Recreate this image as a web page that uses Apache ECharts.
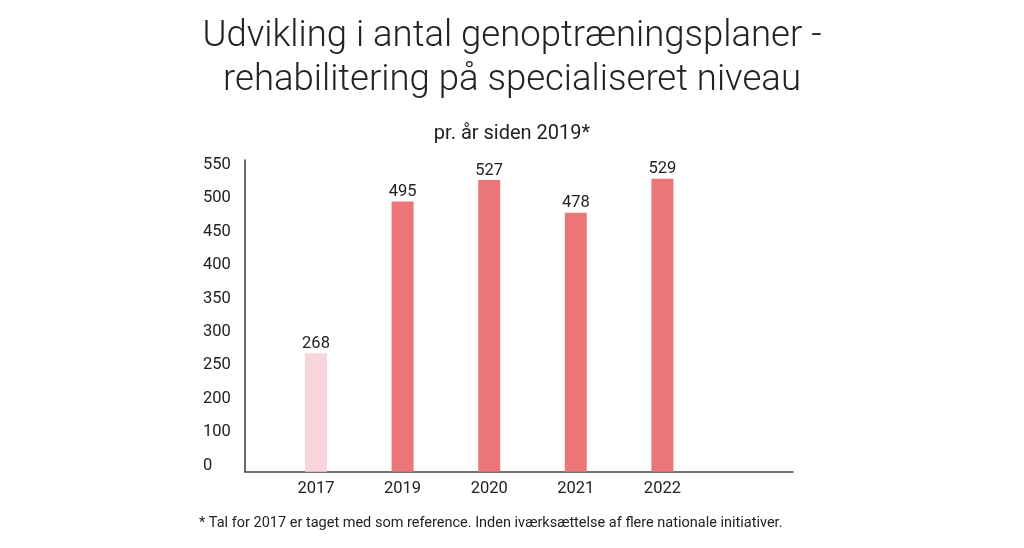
<!DOCTYPE html>
<html>
<head>
<meta charset="utf-8">
<script src="https://cdn.jsdelivr.net/npm/echarts@6/dist/echarts.min.js"></script>
<style>
  html, body { margin: 0; padding: 0; background: #fff; }
  #main { width: 1024px; height: 548px; }
</style>
</head>
<body>
<div id="main"></div>
<script>
// data
const years = ['2017', '2019', '2020', '2021', '2022'];
const antal = [268, 495, 527, 478, 529];
const barColors = ['#f8d4dc', '#ec7578', '#ec7578', '#ec7578', '#ec7578'];
// the original axis is labelled oddly: positions 100/150 carry the text 0/100
const tickValues = [100, 150, 200, 250, 300, 350, 400, 450, 500, 550];
const tickLabels = ['0', '100', '200', '250', '300', '350', '400', '450', '500', '550'];

const font = 'Roboto, "Liberation Sans", sans-serif';

var myChart = echarts.init(document.getElementById('main'));
let option = {
  animation: false,
  title: [
    {
      text: 'Udvikling i antal genoptræningsplaner -\nrehabilitering på specialiseret niveau',
      left: 'center',
      top: 10,
      textStyle: { fontFamily: font, fontWeight: 300, fontSize: 36.5, lineHeight: 44, color: '#222' }
    },
    {
      text: 'pr. år siden 2019*',
      left: 'center',
      top: 117,
      textStyle: { fontFamily: font, fontWeight: 400, fontSize: 20, lineHeight: 24, color: '#222' }
    },
    {
      text: '* Tal for 2017 er taget med som reference. Inden iværksættelse af flere nationale initiativer.',
      left: 194,
      top: 509,
      textStyle: { fontFamily: font, fontWeight: 400, fontSize: 14.5, lineHeight: 18, color: '#222' }
    }
  ],
  grid: [
    // bars
    { left: 272.7, right: 318.3, top: 160, bottom: 76.3 },
    // axis frame
    { left: 245, right: 231, top: 160, bottom: 76.3 }
  ],
  xAxis: [
    {
      type: 'category',
      gridIndex: 0,
      data: years,
      axisLine: { show: false },
      axisTick: { show: false },
      axisLabel: { margin: 9, fontFamily: font, fontSize: 16.5, color: '#222' }
    },
    {
      type: 'value',
      gridIndex: 1,
      min: 0,
      max: 1,
      axisLine: { show: true, onZero: false, lineStyle: { color: '#444', width: 1.6 } },
      axisTick: { show: false },
      axisLabel: { show: false },
      splitLine: { show: false }
    }
  ],
  yAxis: [
    {
      type: 'value',
      gridIndex: 0,
      min: 91,
      max: 557,
      show: false,
      splitLine: { show: false }
    },
    {
      type: 'value',
      gridIndex: 1,
      min: 91,
      max: 557,
      axisLine: { show: true, lineStyle: { color: '#444', width: 1.6 } },
      axisTick: { show: false },
      splitLine: { show: false },
      axisLabel: {
        customValues: tickValues,
        align: 'left',
        margin: 42,
        fontFamily: font,
        fontSize: 16.5,
        color: '#222',
        formatter: function (v) {
          return tickLabels[tickValues.indexOf(v)];
        }
      }
    }
  ],
  series: [
    {
      type: 'bar',
      xAxisIndex: 0,
      yAxisIndex: 0,
      barWidth: 22,
      data: antal.map((v, i) => ({ value: v, itemStyle: { color: barColors[i] } })),
      label: {
        show: true,
        position: 'top',
        distance: 1,
        fontFamily: font,
        fontSize: 16.5,
        color: '#222'
      }
    }
  ]
};
myChart.setOption(option);
</script>
</body>
</html>
